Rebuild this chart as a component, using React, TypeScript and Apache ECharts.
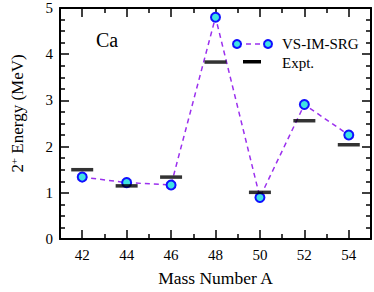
import React, { useEffect, useRef } from "react";
import * as echarts from "echarts";

const massNumbers = [42, 44, 46, 48, 50, 52, 54];
const vsImSrg = [1.34, 1.22, 1.17, 4.8, 0.9, 2.91, 2.25];
const expt = [1.5, 1.15, 1.34, 3.83, 1.01, 2.56, 2.04];
const xMajorTicks = [42, 44, 46, 48, 50, 52, 54];
const xMinorTicks = [41, 43, 45, 47, 49, 51, 53, 55];

const FONT = "Liberation Serif";

export default function App() {
  const ref = useRef<HTMLDivElement>(null);
  useEffect(() => {
    if (!ref.current) return;
    const chart = echarts.init(ref.current, null, { renderer: "svg" });
    const axisLine = { show: true, lineStyle: { color: "#000", width: 2 } };
    const text = { fontFamily: FONT, fontSize: 15, color: "#000" };
    const tickStyle = { color: "#000", width: 1.5 };
    chart.setOption({
      animation: false,
      textStyle: { fontFamily: FONT },
      grid: { left: 56, right: 3, top: 8, bottom: 49 },
      xAxis: [
        {
          type: "value", min: 41, max: 55, position: "bottom",
          axisLine,
          axisTick: { inside: true, length: 9, lineStyle: tickStyle, customValues: xMajorTicks },
          axisLabel: { ...text, margin: 8, customValues: xMajorTicks },
          splitLine: { show: false },
          name: "Mass Number A", nameLocation: "middle", nameGap: 30,
          nameTextStyle: { fontFamily: FONT, fontSize: 17.5, color: "#000" },
        },
        {
          type: "value", min: 41, max: 55, position: "bottom",
          axisLine: { show: false },
          axisTick: { inside: true, length: 5, lineStyle: tickStyle, customValues: xMinorTicks },
          axisLabel: { show: false },
          splitLine: { show: false },
        },
        {
          type: "value", min: 41, max: 55, position: "top",
          axisLine,
          axisTick: { inside: true, length: 9, lineStyle: tickStyle, customValues: xMajorTicks },
          axisLabel: { show: false },
          splitLine: { show: false },
        },
        {
          type: "value", min: 41, max: 55, position: "top",
          axisLine: { show: false },
          axisTick: { inside: true, length: 5, lineStyle: tickStyle, customValues: xMinorTicks },
          axisLabel: { show: false },
          splitLine: { show: false },
        },
      ],
      yAxis: [
        {
          type: "value", min: 0, max: 5, interval: 1, position: "left",
          axisLine,
          axisTick: { inside: true, length: 9, lineStyle: tickStyle },
          minorTick: { show: true, splitNumber: 4, length: 5, lineStyle: tickStyle },
          axisLabel: { ...text, margin: 7 },
          splitLine: { show: false },
          name: "2{sup|+} Energy (MeV)", nameLocation: "middle", nameGap: 33, nameRotate: 90,
          nameTextStyle: {
            fontFamily: FONT, fontSize: 17, color: "#000", padding: [0, 0, 0, 20],
            rich: { sup: { fontFamily: FONT, fontSize: 11, color: "#000", verticalAlign: "top", padding: [0, 0, 8, 0] } },
          },
        },
        {
          type: "value", min: 0, max: 5, interval: 1, position: "right",
          axisLine,
          axisTick: { inside: true, length: 9, lineStyle: tickStyle },
          minorTick: { show: true, splitNumber: 4, length: 5, lineStyle: tickStyle },
          axisLabel: { show: false },
          splitLine: { show: false },
        },
      ],
      series: [
        {
          name: "VS-IM-SRG", type: "line",
          data: massNumbers.map((a, i) => [a, vsImSrg[i]]),
          symbol: "circle", symbolSize: 9,
          itemStyle: { color: "#3fe3e3", borderColor: "#1010ff", borderWidth: 2 },
          lineStyle: { color: "#9b30ee", type: [5, 4], width: 1.5 },
          z: 2,
        },
        {
          name: "Expt.", type: "scatter",
          data: massNumbers.map((a, i) => [a, expt[i]]),
          symbol: "rect", symbolSize: [22, 3.5],
          itemStyle: { color: "#000" },
          z: 3,
        },
      ],
      graphic: [
        { type: "text", left: 96, top: 30, style: { text: "Ca", fontFamily: FONT, fontSize: 20, fill: "#000" } },
        { type: "line", shape: { x1: 237, y1: 44, x2: 268, y2: 44 }, style: { stroke: "#9b30ee", lineWidth: 1.5, lineDash: [5, 4] } },
        { type: "circle", shape: { cx: 237, cy: 44, r: 4 }, style: { fill: "#3fe3e3", stroke: "#1010ff", lineWidth: 2 } },
        { type: "circle", shape: { cx: 268, cy: 44, r: 4 }, style: { fill: "#3fe3e3", stroke: "#1010ff", lineWidth: 2 } },
        { type: "text", left: 282, top: 36, style: { text: "VS-IM-SRG", fontFamily: FONT, fontSize: 15, fill: "#000" } },
        { type: "rect", shape: { x: 243, y: 60, width: 18, height: 3.5 }, style: { fill: "#000" } },
        { type: "text", left: 282, top: 55, style: { text: "Expt.", fontFamily: FONT, fontSize: 15, fill: "#000" } },
      ],
    });
    return () => chart.dispose();
  }, []);
  return <div ref={ref} style={{ width: 374, height: 292, position: "absolute", left: 0, top: 0 }} />;
}
